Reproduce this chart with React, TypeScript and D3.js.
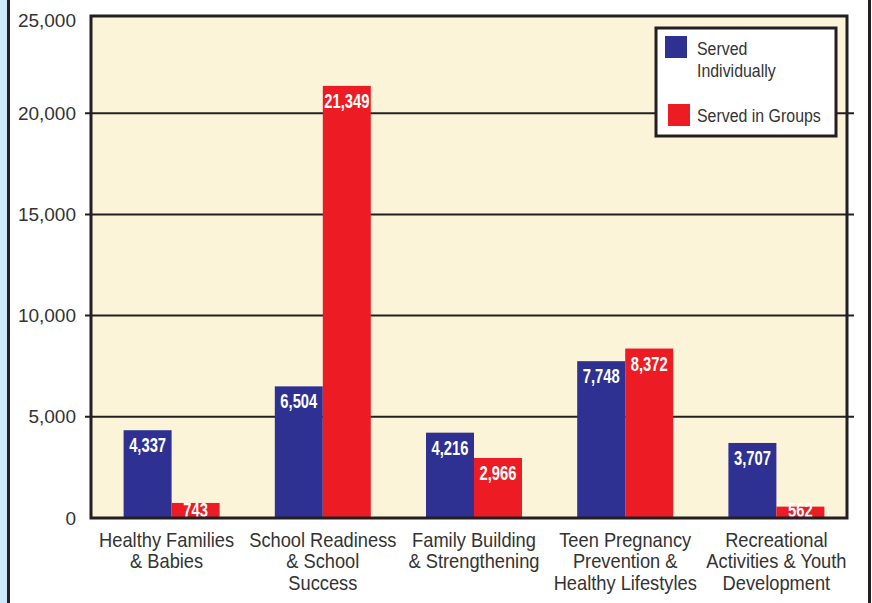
import * as d3 from "d3";

const categories = [
  ["Healthy Families", "& Babies"],
  ["School Readiness", "& School", "Success"],
  ["Family Building", "& Strengthening"],
  ["Teen Pregnancy", "Prevention &", "Healthy Lifestyles"],
  ["Recreational", "Activities & Youth", "Development"],
];
const servedIndividually = [4337, 6504, 4216, 7748, 3707];
const servedInGroups = [743, 21349, 2966, 8372, 562];
const seriesNames = ["Served Individually", "Served in Groups"];
const seriesColors = ["#2e3192", "#ed1c24"];
const yTicks = [0, 5000, 10000, 15000, 20000, 25000];

const W = 872;
const H = 603;
const frame = { left: 91, top: 16, right: 847, bottom: 518 };
const sans = "'Liberation Sans', Arial, Helvetica, sans-serif";
const ink = "#231f20";

// condensed look: plain sans squeezed horizontally
function NarrowText({
  x,
  y,
  sx,
  children,
  ...rest
}: {
  x: number;
  y: number;
  sx: number;
  children: React.ReactNode;
  [k: string]: unknown;
}) {
  return (
    <text transform={`translate(${x},${y}) scale(${sx},1)`} fontFamily={sans} {...rest}>
      {children}
    </text>
  );
}

export default function App() {
  const keys = categories.map((c) => c.join(" "));
  const x = d3.scaleBand<string>().domain(keys).range([96, 852]);
  const x1 = d3.scaleBand<string>().domain(seriesNames).range([0, 96]);
  const y = d3.scaleLinear().domain([0, 25000]).range([frame.bottom, 12]);
  const fmt = d3.format(",");
  const series = [servedIndividually, servedInGroups];

  return (
    <svg
      width={W}
      height={H}
      style={{ position: "absolute", left: 0, top: 0, background: "#fff" }}
    >
      {/* page edges */}
      <rect x={0} y={0} width={7} height={H} fill="#cfe9fa" />
      <line x1={8.5} x2={8.5} y1={0} y2={H} stroke={ink} strokeWidth={3} />
      <line x1={869.5} x2={869.5} y1={0} y2={H} stroke={ink} strokeWidth={3} />

      {/* plot background */}
      <rect
        x={frame.left}
        y={frame.top}
        width={frame.right - frame.left}
        height={frame.bottom - frame.top}
        fill="#fcf4d9"
      />

      {/* grid lines */}
      {yTicks
        .filter((t) => t > 0 && t < 25000)
        .map((t) => (
          <line key={t} x1={85} x2={854} y1={y(t)} y2={y(t)} stroke={ink} strokeWidth={2} />
        ))}

      {/* y tick labels */}
      {yTicks.map((t) => (
        <text
          key={t}
          x={76}
          y={t === 25000 ? 20 : y(t)}
          textAnchor="end"
          dominantBaseline="central"
          fontFamily={sans}
          fontSize={19}
          fill="#333"
        >
          {fmt(t)}
        </text>
      ))}

      {/* bars */}
      {keys.map((k, i) => {
        const cx = (x(k) ?? 0) + x.bandwidth() / 2 - 48;
        return (
          <g key={k} transform={`translate(${cx},0)`}>
            {seriesNames.map((s, j) => {
              const v = series[j][i];
              const top = y(v);
              const bx = x1(s) ?? 0;
              return (
                <g key={s}>
                  <rect
                    x={bx}
                    y={top}
                    width={x1.bandwidth()}
                    height={y(0) - top}
                    fill={seriesColors[j]}
                  />
                  <NarrowText
                    x={bx + x1.bandwidth() / 2}
                    y={Math.min(top + 22, frame.bottom - 1)}
                    sx={0.72}
                    textAnchor="middle"
                    fontWeight="bold"
                    fontSize={20.5}
                    fill="#fff"
                  >
                    {fmt(v)}
                  </NarrowText>
                </g>
              );
            })}
          </g>
        );
      })}

      {/* frame */}
      <rect
        x={frame.left}
        y={frame.top}
        width={frame.right - frame.left}
        height={frame.bottom - frame.top}
        fill="none"
        stroke={ink}
        strokeWidth={3}
      />

      {/* x labels */}
      {categories.map((lines, i) => (
        <NarrowText
          key={i}
          x={(x(keys[i]) ?? 0) + x.bandwidth() / 2 - (i === 0 ? 5 : 0)}
          y={547}
          sx={0.87}
          textAnchor="middle"
          fontSize={21}
          fill="#333"
        >
          {lines.map((l, j) => (
            <tspan key={j} x={0} y={j * 21.5}>
              {l}
            </tspan>
          ))}
        </NarrowText>
      ))}

      {/* legend */}
      <g>
        <rect x={656} y={28} width={180} height={108} fill="#fff" stroke={ink} strokeWidth={3} />
        <rect x={665} y={36} width={22} height={22} fill={seriesColors[0]} />
        <NarrowText x={697} y={55} sx={0.86} fontSize={18.5} fill="#333">
          Served
          <tspan x={0} y={22}>
            Individually
          </tspan>
        </NarrowText>
        <rect x={668} y={104} width={22} height={22} fill={seriesColors[1]} />
        <NarrowText x={697} y={122} sx={0.86} fontSize={18.5} fill="#333">
          {seriesNames[1]}
        </NarrowText>
      </g>
    </svg>
  );
}
